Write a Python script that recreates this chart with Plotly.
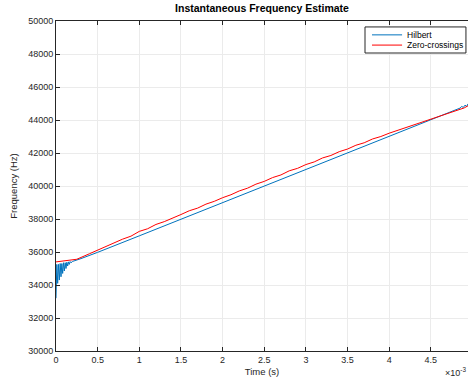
import plotly.graph_objects as go

# Time in milliseconds (axis shows x10^-3 s)
hilbert_t = [0.000, 0.010, 0.020, 0.030, 0.040, 0.050, 0.060, 0.070, 0.080, 0.090,
             0.100, 0.110, 0.120, 0.130, 0.140, 0.150, 0.160, 0.170, 0.180, 0.200,
             0.300, 0.500, 1.000, 1.500, 2.000, 2.500, 3.000, 3.500, 4.000, 4.500,
             4.800, 4.850, 4.870, 4.890, 4.910, 4.930, 4.946]
hilbert_f = [33200, 35250, 34100, 35250, 34300, 35300, 34500, 35300, 34700, 35350,
             34850, 35350, 35000, 35380, 35150, 35400, 35250, 35420, 35350, 35430,
             35600, 35980, 36980, 37980, 38980, 39980, 40980, 41980, 42980, 43990,
             44600, 44720, 44820, 44760, 44900, 44820, 44980]

zc_t = [0.00, 0.10, 0.25, 0.40, 0.50, 0.60, 0.70, 0.80, 0.90, 1.00,
        1.10, 1.20, 1.30, 1.40, 1.50, 1.60, 1.70, 1.80, 1.90, 2.00,
        2.10, 2.20, 2.30, 2.40, 2.50, 2.60, 2.70, 2.80, 2.90, 3.00,
        3.10, 3.20, 3.30, 3.40, 3.50, 3.60, 3.70, 3.80, 3.90, 4.00,
        4.10, 4.20, 4.30, 4.40, 4.50, 4.60, 4.70, 4.80, 4.90, 4.946]
zc_f = [35400, 35450, 35560, 35890, 36110, 36350, 36530, 36780, 36960, 37250,
        37410, 37670, 37840, 38080, 38270, 38500, 38660, 38900, 39070, 39290,
        39470, 39700, 39870, 40110, 40280, 40510, 40670, 40920, 41070, 41300,
        41460, 41700, 41850, 42080, 42240, 42470, 42620, 42850, 43000, 43200,
        43370, 43560, 43720, 43910, 44040, 44230, 44380, 44560, 44730, 44860]

series_names = ["Hilbert", "Zero-crossings"]
series_colors = ["#0072BD", "#FF0000"]

x_ticks = [0, 0.5, 1, 1.5, 2, 2.5, 3, 3.5, 4, 4.5]
x_tick_text = ["0", "0.5", "1", "1.5", "2", "2.5", "3", "3.5", "4", "4.5"]
y_ticks = [30000, 32000, 34000, 36000, 38000, 40000, 42000, 44000, 46000, 48000, 50000]
y_tick_text = [str(v) for v in y_ticks]

fig = go.Figure()
fig.add_trace(go.Scatter(x=hilbert_t, y=hilbert_f, mode="lines", name=series_names[0],
                         line=dict(color=series_colors[0], width=1)))
fig.add_trace(go.Scatter(x=zc_t, y=zc_f, mode="lines", name=series_names[1],
                         line=dict(color=series_colors[1], width=1)))

axis_col = "#262626"
fig.update_layout(
    width=468, height=381,
    margin=dict(l=56, r=0, t=21, b=30),
    paper_bgcolor="white", plot_bgcolor="white",
    font=dict(family="Liberation Sans, Arial, sans-serif", size=9, color=axis_col),
    title=dict(text="<b>Instantaneous Frequency Estimate</b>", x=0.5, xref="paper",
               y=1, yref="container", yanchor="top", pad=dict(t=5),
               font=dict(size=10.5, color="black")),
    showlegend=False,
    xaxis=dict(range=[0, 4.946], tickvals=x_ticks, ticktext=x_tick_text,
               showgrid=True, gridcolor="#ebebeb", gridwidth=1,
               showline=True, linecolor=axis_col, linewidth=1, mirror="ticks",
               ticks="inside", ticklen=4, tickcolor=axis_col,
               zeroline=False,
               title=dict(text="Time (s)", standoff=4, font=dict(size=9.5))),
    yaxis=dict(range=[30000, 50000], tickvals=y_ticks, ticktext=y_tick_text,
               showgrid=True, gridcolor="#ebebeb", gridwidth=1,
               showline=True, linecolor=axis_col, linewidth=1, mirror=False,
               ticks="inside", ticklen=4, tickcolor=axis_col,
               zeroline=False,
               title=dict(text="Frequency (Hz)", standoff=8, font=dict(size=9.5))),
)

# x-axis exponent label
fig.add_annotation(text="×10<sup>-3</sup>", xref="paper", yref="paper",
                   x=1.0, y=-0.088, xanchor="right", yanchor="bottom",
                   showarrow=False, font=dict(size=9, color=axis_col))

# Compact MATLAB-style legend box
fig.add_shape(type="rect", xref="paper", yref="paper",
              x0=0.750, x1=0.995, y0=0.903, y1=0.982,
              line=dict(color=axis_col, width=1), fillcolor="white", layer="above")
leg_y = [0.958, 0.927]
for name, col, ly in zip(series_names, series_colors, leg_y):
    fig.add_shape(type="line", xref="paper", yref="paper",
                  x0=0.767, x1=0.840, y0=ly, y1=ly,
                  line=dict(color=col, width=1), layer="above")
    fig.add_annotation(text=name, xref="paper", yref="paper", x=0.847, y=ly,
                       xanchor="left", yanchor="middle", showarrow=False,
                       font=dict(size=8.5, color="black"))

fig.write_html("out.html")
